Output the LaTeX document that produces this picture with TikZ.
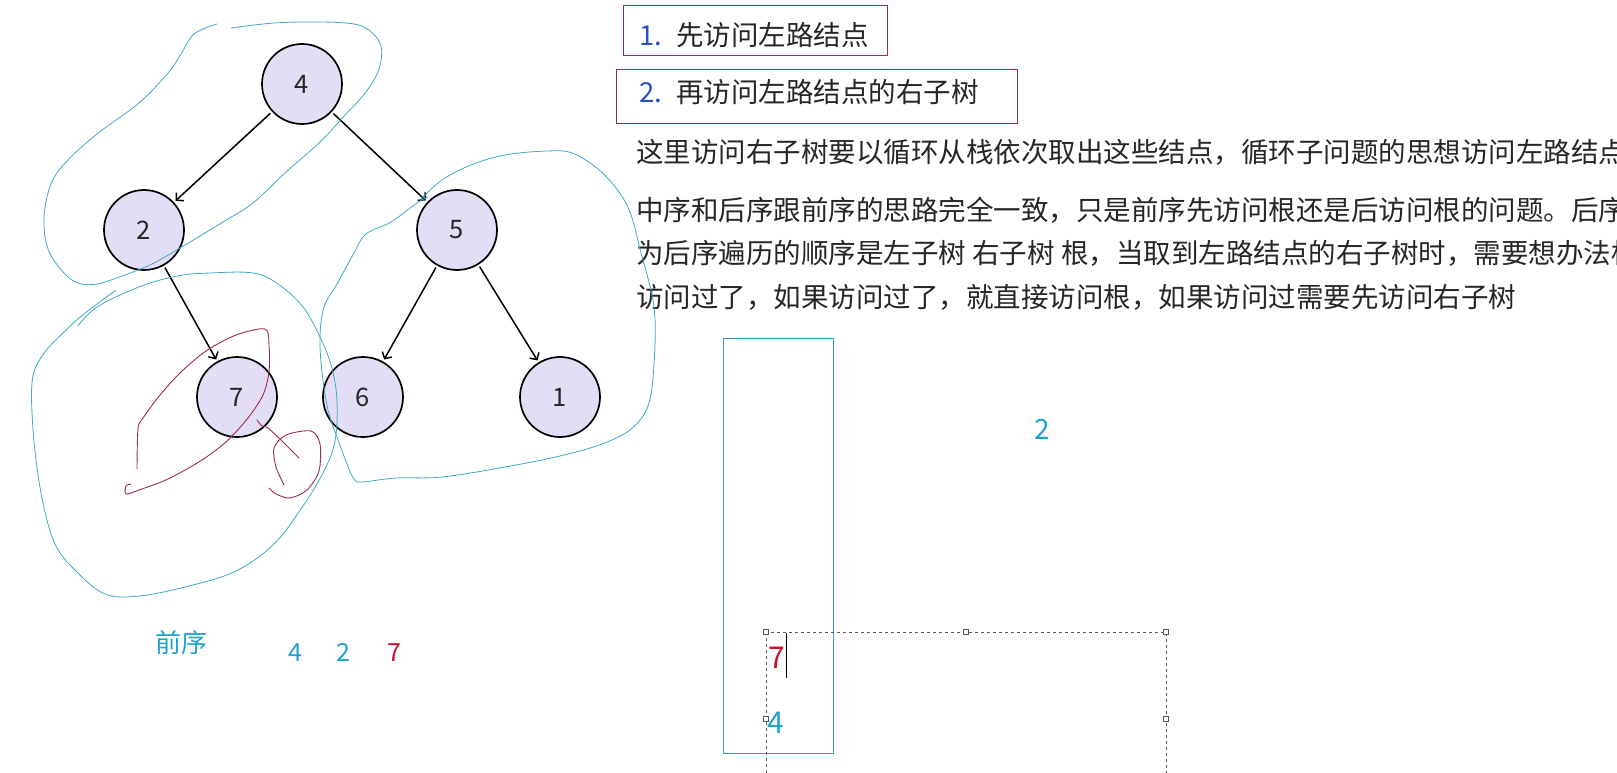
\documentclass[tikz,border=0pt]{standalone}
\usepackage{fontspec}
\newfontfamily\cjk{Noto Sans CJK SC}
\usepackage{xcolor}
\usepackage{tikz}
\usetikzlibrary{arrows.meta, positioning}

\definecolor{nodefill}{HTML}{E3DEF6}
\definecolor{loopcyan}{HTML}{3FAAC6}
\definecolor{scribred}{HTML}{9E2B55}
\definecolor{boxred}{HTML}{9C2F45}
\definecolor{numblue}{HTML}{2B50BF}
\definecolor{textgray}{HTML}{262626}
\definecolor{seqcyan}{HTML}{1FA2CF}
\definecolor{seqred}{HTML}{C8102E}
\definecolor{stackcyan}{HTML}{3C9FC0}
\definecolor{selgray}{HTML}{4A5A66}

\begin{document}
\begin{tikzpicture}[
  x=1pt, y=-1pt,
  font=\cjk,
  tnode/.style  ={circle, draw, line width=1.7pt, fill=nodefill, minimum size=80pt, inner sep=0pt, outer sep=3pt, text=textgray, font=\cjk\fontsize{25.5}{30}\selectfont},
  notebox/.style={rectangle, draw=boxred, line width=0.9pt, anchor=north west, align=left, inner ysep=0pt, text=textgray, font=\cjk\fontsize{27.5}{33}\selectfont},
  para/.style   ={anchor=base west, inner sep=0pt, text=textgray, font=\cjk\fontsize{27.5}{33}\selectfont},
  seq/.style    ={inner sep=0pt, text=seqcyan, font=\cjk\fontsize{25}{30}\selectfont},
  stacknum/.style={inner sep=0pt, text=seqcyan, font=\cjk\fontsize{30}{34}\selectfont},
  hand/.style   ={line width=0.8pt, draw=loopcyan, line join=round, line cap=round},
  scrib/.style  ={line width=0.9pt, draw=scribred, line join=round, line cap=round},
  arr/.style    ={-{Straight Barb[length=5pt, width=11pt]}, line width=1.5pt},
  handle/.style ={rectangle, draw=selgray, fill=white, line width=0.6pt, minimum size=5pt, inner sep=0pt}
  ]

  \useasboundingbox (0,0) rectangle (1617,773);
  \fill[white] (0,0) rectangle (1617,773);
  \clip (0,0) rectangle (1617,773);

  % steps
  \node[notebox, minimum width=264pt, minimum height=50pt, text width=232pt, inner xsep=16pt, text height=31pt, text depth=0pt] (tip1) at (623,5)
    {\textcolor{numblue}{1.}\hspace{14pt}先访问左路结点};
  \node[notebox, minimum width=401pt, minimum height=54pt, text width=355pt, inner xsep=23pt, text height=20pt, text depth=7pt] (tip2) at (616,69)
    {\textcolor{numblue}{2.}\hspace{14pt}再访问左路结点的右子树};

  \node[para] (l1) at (636,162.5) {这里访问右子树要以循环从栈依次取出这些结点，循环子问题的思想访问左路结点};
  \node[para] (l2) at (636,220.5) {中序和后序跟前序的思路完全一致，只是前序先访问根还是后访问根的问题。后序};
  \node[para] (l3) at (636,263.5) {为后序遍历的顺序是左子树 右子树 根，当取到左路结点的右子树时，需要想办法标};
  \node[para] (l4) at (636,307.5) {访问过了，如果访问过了，就直接访问根，如果访问过需要先访问右子树};

  % tree
  \node[tnode] (n4) at (302,84)  {4};
  \node[tnode] (n2) at (144,230) {2};
  \node[tnode] (n5) at (457,230) {5};
  \node[tnode] (n7) at (237,397) {7};
  \node[tnode] (n6) at (363,397) {6};
  \node[tnode] (n1) at (560,397) {1};

  \draw[arr] (n4) -- (n2);
  \draw[arr] (n4) -- (n5);
  \draw[arr] (n2) -- (n7);
  \draw[arr] (n5) -- (n6);
  \draw[arr] (n5) -- (n1);

  % pen marks
  \draw[hand] plot[smooth, tension=0.6] coordinates {(217,24) (194,34) (181,54) (168,73) (139,103) (97,134) (67,161) (51,184) (44,218) (48,249) (63,272) (78,283) (97,284) (122,276) (152,264) (185,245) (223,222) (253,203) (286,172) (320,142) (345,115) (366,92) (379,69) (381,46) (370,31) (354,24) (320,22) (274,23) (231,28)};
  \draw[hand] plot[smooth, tension=0.6] coordinates {(421,199) (442,180) (471,165) (505,155) (547,151) (572,153) (598,169) (619,192) (631,215) (640,249) (654,307) (654,364) (648,406) (631,429) (602,444) (560,456) (505,467) (442,477) (396,478) (362,482) (354,479) (347,464) (337,437) (328,410) (322,372) (320,337) (324,307) (337,284) (354,253) (366,234) (391,222) (417,203) (428,197)};
  \draw[hand] plot[smooth, tension=0.6] coordinates {(78,326) (97,307) (139,287) (177,276) (210,273) (253,273) (278,284) (303,307) (320,337) (332,368) (337,402) (335,441) (324,471) (303,506) (274,544) (236,571) (189,586) (139,596) (105,594) (76,571) (55,544) (42,498) (34,441) (32,383) (42,356) (63,333) (84,314) (116,290)};

  \draw[scrib] plot[smooth, tension=0.5] coordinates {(137,469) (138,429) (143,418) (160,395) (181,372) (206,351) (236,335) (265,329) (269,345) (269,372) (263,395) (248,418) (227,441) (202,460) (168,479) (139,490) (126,494) (126,486) (131,484)};
  \draw[scrib] plot[smooth, tension=0.5] coordinates {(257,420) (262,426) (268,428) (284,443) (299,458)};
  \draw[scrib] plot[smooth, tension=0.5] coordinates {(284,485) (276,467) (274,448) (286,435) (311,431) (320,444) (319,471) (307,490) (290,498) (276,494) (269,488)};

  % preorder sequence
  \node[seq, anchor=base, font=\cjk\fontsize{26}{30}\selectfont] (pre) at (181,652) {前序};
  \node[seq, anchor=base] (q4) at (295,661) {4};
  \node[seq, base right=34pt of q4] (q2) {2};
  \node[seq, base right=37pt of q2, text=seqred] (q7) {7};

  % stack
  \node[draw=stackcyan, line width=1.2pt, anchor=north west, minimum width=110pt, minimum height=415pt, inner sep=0pt] (stack) at (723,338) {};
  \draw[selgray, line width=0.7pt, dash pattern=on 3pt off 3pt] (766,632) rectangle (1166,800);
  \foreach \p in {(766,632),(966,632),(1166,632),(766,719),(1166,719)}
    \node[handle] at \p {};

  \node[stacknum, anchor=base, text=seqred] (s7) at (777,668) {7};
  \draw[line width=1pt] (786,633) -- (786,678);
  \node[stacknum, anchor=base] (s4) at (776,733) {4};
  \node[stacknum, anchor=base, font=\cjk\fontsize{28}{32}\selectfont] (top2) at (1042,439) {2};

\end{tikzpicture}
\end{document}
